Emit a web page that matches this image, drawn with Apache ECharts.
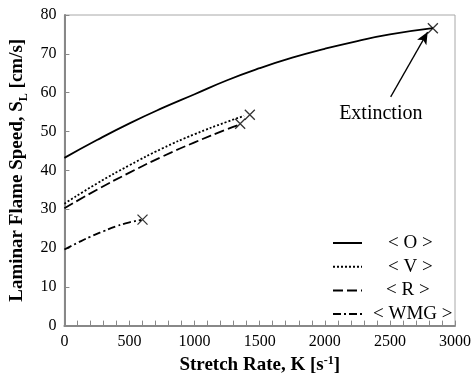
<!DOCTYPE html>
<html>
<head>
<meta charset="utf-8">
<script src="https://cdn.jsdelivr.net/npm/echarts@6/dist/echarts.min.js"></script>
<style>
  html, body { margin: 0; padding: 0; background: #fff; }
  #chart { width: 474px; height: 380px; }
</style>
</head>
<body>
<div id="chart"></div>
<script>
// data: [stretch rate K, flame speed SL]
const seriesNames = ['< O >', '< V >', '< R >', '< WMG >'];
const curveO = [[0, 43.2], [250, 47.8], [500, 52.1], [750, 56.0], [1000, 59.6], [1250, 63.2],
    [1500, 66.3], [1750, 69.0], [2000, 71.3], [2250, 73.3], [2500, 75.0], [2830, 76.6]];
const curveV = [[0, 31.4], [250, 36.6], [500, 41.3], [750, 45.6], [1000, 49.3], [1250, 52.5], [1380, 54.0]];
const curveR = [[0, 30.2], [250, 35.0], [500, 39.4], [750, 43.5], [1000, 47.2], [1250, 50.6], [1340, 51.7]];
const curveWMG = [[0, 19.6], [100, 21.3], [200, 22.9], [300, 24.3], [400, 25.6], [500, 26.6], [590, 27.2]];
const extinctionPts = [[2830, 76.6], [1424, 54.3], [1350, 52.0], [600, 27.3]];
const arrowFrom = [2506, 58.9];
const arrowTo = [2790, 75.6];
const labelAt = [2430, 54.6];

const serif = 'Liberation Serif';
const crossPath = 'path://M0,0L10,10M10,0L0,10';
// left padding so each legend text sits centred like the original
const legendPad = [21, 21, 19, 6];

var dom = document.getElementById('chart');
var myChart = echarts.init(dom, null, { renderer: 'canvas' });

function lineSeries(name, data, type) {
    return {
        name: name,
        type: 'line',
        data: data,
        smooth: true,
        symbol: 'none',
        lineStyle: { color: '#000', width: 1.8, type: type },
        itemStyle: { color: '#000' },
        z: 3
    };
}

const option = {
    animation: false,
    textStyle: { fontFamily: serif, color: '#000' },
    grid: {
        left: 61, right: 19, top: 15, bottom: 44,
        show: true, borderColor: '#a8a8a8', borderWidth: 1
    },
    legend: {
        orient: 'vertical',
        left: 332,
        top: 233.5,
        padding: 0,
        itemWidth: 29,
        itemHeight: 14,
        itemGap: 4.7,
        itemStyle: { opacity: 0 },
        data: seriesNames.map(function (n, i) {
            return { name: n, textStyle: { padding: [0, 0, 0, legendPad[i]] } };
        }),
        textStyle: { fontFamily: serif, fontSize: 19, color: '#000' }
    },
    xAxis: {
        type: 'value',
        min: 0, max: 3000, interval: 500,
        name: '{b|Stretch Rate, K [s}{sup|-1}{b|]}',
        nameLocation: 'middle',
        nameGap: 24,
        nameTextStyle: {
            rich: {
                b: { fontSize: 19, fontWeight: 'bold', fontFamily: serif, lineHeight: 22, verticalAlign: 'middle' },
                sup: { fontSize: 12, fontWeight: 'bold', fontFamily: serif, lineHeight: 12, verticalAlign: 'top' }
            }
        },
        axisLine: { lineStyle: { color: '#888', width: 2 } },
        axisTick: { inside: true, length: 5, lineStyle: { color: '#888' } },
        minorTick: { show: true, splitNumber: 5, length: 5, lineStyle: { color: '#888' } },
        splitLine: { show: false },
        axisLabel: {
            fontSize: 16, color: '#000', margin: 8, fontFamily: serif,
            formatter: function (v) { return String(v); }
        }
    },
    yAxis: {
        type: 'value',
        min: 0, max: 80, interval: 10,
        name: '{b|Laminar Flame Speed, S}{sub|L}{b| [cm/s]}',
        nameLocation: 'middle',
        nameGap: 30,
        nameTextStyle: {
            rich: {
                b: { fontSize: 19, fontWeight: 'bold', fontFamily: serif, lineHeight: 24, verticalAlign: 'middle' },
                sub: { fontSize: 12, fontWeight: 'bold', fontFamily: serif, lineHeight: 12, verticalAlign: 'bottom' }
            }
        },
        axisLine: { show: true, lineStyle: { color: '#888', width: 2 } },
        axisTick: { inside: true, length: 5, lineStyle: { color: '#888' } },
        splitLine: { show: false },
        axisLabel: { fontSize: 16, color: '#000', margin: 8, fontFamily: serif }
    },
    series: [
        Object.assign(lineSeries(seriesNames[0], curveO, 'solid'), {
            markLine: {
                silent: true,
                symbol: ['none', 'arrow'],
                symbolSize: [8, 12],
                label: { show: false },
                lineStyle: { color: '#000', width: 1.3, type: 'solid' },
                data: [[{ coord: arrowFrom }, { coord: arrowTo }]]
            },
            markPoint: {
                silent: true,
                symbol: 'circle',
                symbolSize: 0,
                label: { show: true, formatter: 'Extinction', color: '#000', fontSize: 20, fontFamily: serif },
                data: [{ coord: labelAt }]
            }
        }),
        lineSeries(seriesNames[1], curveV, [2, 2]),
        lineSeries(seriesNames[2], curveR, [10, 4]),
        lineSeries(seriesNames[3], curveWMG, [8, 3, 2, 3]),
        {
            type: 'scatter',
            data: extinctionPts,
            symbol: crossPath,
            symbolSize: 10,
            itemStyle: { color: 'none', borderColor: '#000', borderWidth: 1.3 },
            z: 4
        }
    ]
};

myChart.setOption(option);
window.addEventListener('resize', myChart.resize);
</script>
</body>
</html>
